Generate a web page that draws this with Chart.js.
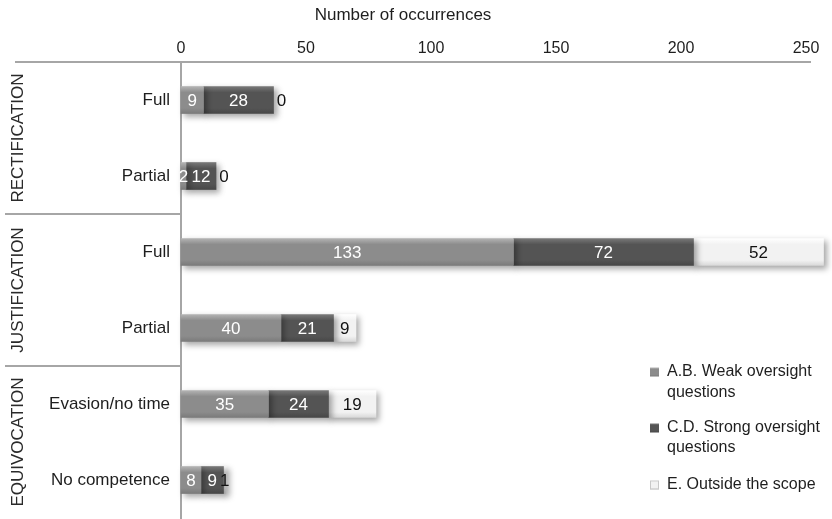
<!DOCTYPE html>
<html>
<head>
<meta charset="utf-8">
<script src="https://cdn.jsdelivr.net/npm/chart.js@4/dist/chart.umd.min.js"></script>
<style>
  html, body { margin: 0; padding: 0; background: #ffffff; }
  #wrap { width: 832px; height: 519px; position: relative; }
</style>
</head>
<body>
<div id="wrap"><canvas id="c" width="832" height="519"></canvas></div>
<script>
// Answer types and their groups
const categories = ['Full', 'Partial', 'Full', 'Partial', 'Evasion/no time', 'No competence'];
const groupNames = ['RECTIFICATION', 'JUSTIFICATION', 'EQUIVOCATION'];
const groupSizes = [2, 2, 2];

// Occurrences per question type
const seriesNames = ['A.B. Weak oversight questions', 'C.D. Strong oversight questions', 'E. Outside the scope'];
const legendLines = [['A.B. Weak oversight', 'questions'], ['C.D. Strong oversight', 'questions'], ['E. Outside the scope']];
const weakOversight = [9, 2, 133, 40, 35, 8];
const strongOversight = [28, 12, 72, 21, 24, 9];
const outsideScope = [0, 0, 52, 9, 19, 1];

const xTicks = [0, 50, 100, 150, 200, 250];
const axisTitle = 'Number of occurrences';

const FONT = "'Liberation Sans', Arial, Helvetica, sans-serif";
const BAR_H = 27;

// Bevelled gray shades: [top highlight, body, bottom]
const shades = [
  ['#b3b3b3', '#8c8c8c', '#7a7a7a'],
  ['#787878', '#545454', '#474747'],
  ['#ffffff', '#f2f2f2', '#d9d9d9']
];
const labelColors = ['#ffffff', '#ffffff', '#111111'];

function bevel(ctx, yTop, h, s) {
  const g = ctx.createLinearGradient(0, yTop, 0, yTop + h);
  g.addColorStop(0, s[0]);
  g.addColorStop(0.22, s[1]);
  g.addColorStop(0.8, s[1]);
  g.addColorStop(1, s[2]);
  return g;
}

function fillFor(i) {
  return (c) => {
    const ys = c.chart.scales.y;
    if (c.type !== 'data' || !ys) return shades[i][1];
    const yc = ys.getPixelForValue(c.dataIndex);
    if (!Number.isFinite(yc)) return shades[i][1];
    return bevel(c.chart.ctx, yc - BAR_H / 2, BAR_H, shades[i]);
  };
}

// Lines framing the axes and group separators, plus rotated group names
const framePlugin = {
  id: 'frame',
  beforeDatasetsDraw(chart) {
    const { ctx, chartArea: a } = chart;
    const step = (a.bottom - a.top) / categories.length;
    ctx.save();
    ctx.strokeStyle = '#a6a6a6';
    ctx.lineWidth = 2;
    ctx.beginPath();
    ctx.moveTo(15, a.top); ctx.lineTo(a.right + 5, a.top);
    ctx.moveTo(a.left, a.top); ctx.lineTo(a.left, chart.height);
    let idx = 0;
    for (let g = 0; g < groupSizes.length - 1; g++) {
      idx += groupSizes[g];
      const yy = a.top + idx * step;
      ctx.moveTo(5, yy); ctx.lineTo(a.left, yy);
    }
    ctx.stroke();

    ctx.fillStyle = '#2a2a2a';
    ctx.font = '17px ' + FONT;
    ctx.textAlign = 'center';
    ctx.textBaseline = 'middle';
    idx = 0;
    groupNames.forEach((name, g) => {
      const y0 = a.top + idx * step;
      idx += groupSizes[g];
      const y1 = a.top + idx * step;
      ctx.save();
      ctx.translate(18, (y0 + y1) / 2);
      ctx.rotate(-Math.PI / 2);
      ctx.fillText(name, 0, 0);
      ctx.restore();
    });
    ctx.restore();
  }
};

// Soft drop shadow under the bars
const shadowPlugin = {
  id: 'barShadow',
  beforeDatasetDraw(chart) {
    const ctx = chart.ctx;
    ctx.shadowColor = 'rgba(0,0,0,0.35)';
    ctx.shadowBlur = 6;
    ctx.shadowOffsetX = 3;
    ctx.shadowOffsetY = 3;
  },
  afterDatasetDraw(chart) {
    const ctx = chart.ctx;
    ctx.shadowColor = 'rgba(0,0,0,0)';
    ctx.shadowBlur = 0;
    ctx.shadowOffsetX = 0;
    ctx.shadowOffsetY = 0;
  }
};

// Value written on each segment; zero values sit just past the bar end
const valuePlugin = {
  id: 'values',
  afterDatasetsDraw(chart) {
    const ctx = chart.ctx;
    ctx.save();
    ctx.font = '17px ' + FONT;
    ctx.textBaseline = 'middle';
    ctx.textAlign = 'center';
    chart.data.datasets.forEach((ds, di) => {
      const meta = chart.getDatasetMeta(di);
      meta.data.forEach((el, i) => {
        const v = ds.data[i];
        if (v === 0) {
          ctx.fillStyle = '#111111';
          ctx.fillText(String(v), el.x + 8, el.y + 1);
        } else {
          ctx.fillStyle = labelColors[di];
          ctx.fillText(String(v), (el.x + el.base) / 2, el.y + 1);
        }
      });
    });
    ctx.restore();
  }
};

// Legend with wrapped entries in the lower right
const legendPlugin = {
  id: 'sideLegend',
  afterDraw(chart) {
    const ctx = chart.ctx;
    const rows = [[372, 393], [428, 448], [485]];
    ctx.save();
    ctx.font = '16px ' + FONT;
    ctx.textBaseline = 'middle';
    ctx.textAlign = 'left';
    legendLines.forEach((lines, i) => {
      const y = rows[i][0];
      ctx.fillStyle = bevel(ctx, y - 4.5, 9, shades[i]);
      ctx.fillRect(650, y - 4.5, 9, 9);
      if (i === 2) {
        ctx.strokeStyle = '#c8c8c8';
        ctx.lineWidth = 1;
        ctx.strokeRect(650.5, y - 4, 8, 8);
      }
      ctx.fillStyle = '#1e1e1e';
      lines.forEach((t, k) => ctx.fillText(t, 667, rows[i][k]));
    });
    ctx.restore();
  }
};

const makeSet = (label, data, i) => ({
  label,
  data,
  backgroundColor: fillFor(i),
  borderWidth: 0,
  barThickness: BAR_H,
  clip: false
});

new Chart(document.getElementById('c'), {
  type: 'bar',
  data: {
    labels: categories,
    datasets: [
      makeSet(seriesNames[0], weakOversight, 0),
      makeSet(seriesNames[1], strongOversight, 1),
      makeSet(seriesNames[2], outsideScope, 2)
    ]
  },
  options: {
    indexAxis: 'y',
    responsive: false,
    animation: false,
    events: [],
    layout: { padding: { left: 0, right: 26, top: 0, bottom: 1 } },
    plugins: {
      legend: { display: false },
      tooltip: { enabled: false },
      title: {
        display: true,
        text: axisTitle,
        color: '#1e1e1e',
        font: { family: FONT, size: 17, weight: 'normal' },
        padding: { top: 5, bottom: 5 }
      }
    },
    scales: {
      x: {
        position: 'top',
        stacked: true,
        min: 0,
        max: 250,
        afterBuildTicks: (s) => { s.ticks = xTicks.map(v => ({ value: v })); },
        afterFit: (s) => { s.height = 31.6; },
        grid: { display: false, drawTicks: false },
        border: { display: false },
        ticks: { color: '#1e1e1e', padding: 4, maxRotation: 0, font: { family: FONT, size: 16 } }
      },
      y: {
        stacked: true,
        afterFit: (s) => { s.width = 181; s.paddingTop = 0; s.paddingBottom = 0; },
        grid: { display: false, drawTicks: false },
        border: { display: false },
        ticks: { color: '#1e1e1e', padding: 11, font: { family: FONT, size: 17 } }
      }
    }
  },
  plugins: [framePlugin, shadowPlugin, valuePlugin, legendPlugin]
});
</script>
</body>
</html>
